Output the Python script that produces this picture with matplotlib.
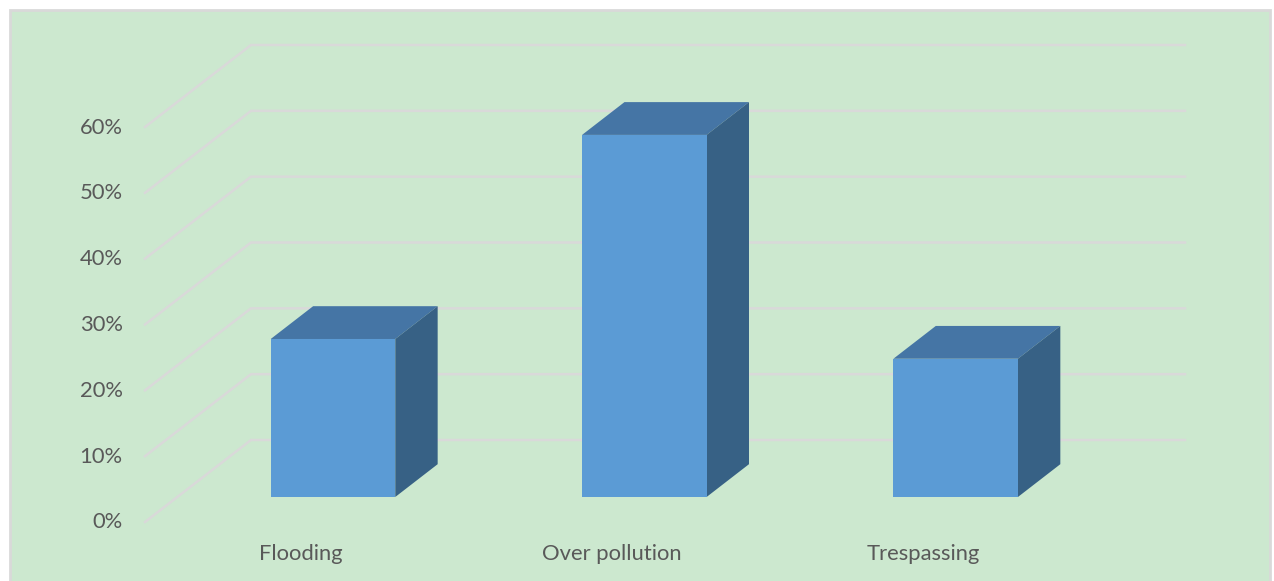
import matplotlib.pyplot as plt
from matplotlib.patches import Polygon, Rectangle
from matplotlib.transforms import ScaledTranslation

categories = ['Flooding', 'Over pollution', 'Trespassing']
shares = [24, 55, 21]
y_ticks = [0, 10, 20, 30, 40, 50, 60]

BACKGROUND = '#cce8cf'
FRAME = '#d9d9d9'
GRID = '#d9d9d9'
TEXT = '#595959'
FRONT = '#5b9bd5'
TOP = '#4575a5'
SIDE = '#376185'

W, H = 1274, 581
plt.rcParams['font.family'] = ['Lato', 'DejaVu Sans']
fig = plt.figure(figsize=(W / 100, H / 100), dpi=100, facecolor='white')

# outer panel, open at the bottom edge of the figure
fig.patches.append(Rectangle((10 / W, -0.02), 1260 / W, 1.02 - 10 / H,
                             transform=fig.transFigure, facecolor=BACKGROUND,
                             edgecolor=FRAME, linewidth=2, zorder=-1))

# axes = front plane of the fake 3d box
ax = fig.add_axes([145 / W, 1 - 522 / H, 934 / W, 395 / H])
ax.patch.set_alpha(0)
ax.set_xlim(-0.5, 2.5)
ax.set_ylim(0, 60)
for s in ax.spines.values():
    s.set_visible(False)

# oblique depth of the floor, in data units
depth_x = 106 / (934 / 3)
depth_y = 82 / (395 / 60)
bar_start = 0.305
bar_depth = 0.4
bar_width = 0.4

# gridlines run along the side wall, then across the back wall
for v in y_ticks:
    ax.plot([-0.5, -0.5 + depth_x, 2.5 + depth_x],
            [v, v + depth_y, v + depth_y],
            color=GRID, lw=1.8, clip_on=False, zorder=1,
            solid_joinstyle='miter')

off_x = depth_x * bar_start
off_y = depth_y * bar_start
dx = depth_x * bar_depth
dy = depth_y * bar_depth

for i, v in enumerate(shares):
    left = i + off_x - bar_width / 2
    right = left + bar_width
    top = off_y + v
    ax.bar(i + off_x, v, width=bar_width, bottom=off_y, color=FRONT,
           zorder=3, clip_on=False)
    ax.add_patch(Polygon([(left, top), (right, top), (right + dx, top + dy), (left + dx, top + dy)],
                         closed=True, facecolor=TOP, edgecolor='none', zorder=2, clip_on=False))
    ax.add_patch(Polygon([(right, off_y), (right + dx, off_y + dy), (right + dx, top + dy), (right, top)],
                         closed=True, facecolor=SIDE, edgecolor='none', zorder=2, clip_on=False))

ax.set_yticks(y_ticks)
ax.set_yticklabels(['%d%%' % v for v in y_ticks])
ax.set_xticks(range(len(categories)))
ax.set_xticklabels(categories)
ax.tick_params(axis='both', length=0, labelsize=15.8, labelcolor=TEXT)
ax.tick_params(axis='y', pad=16)
ax.tick_params(axis='x', pad=15.5)

# y labels sit slightly above their gridline ends
nudge = ScaledTranslation(0, 1.5 / 100, fig.dpi_scale_trans)
for label in ax.get_yticklabels():
    label.set_transform(label.get_transform() + nudge)

fig.savefig('out.png', dpi=100, facecolor='white')
